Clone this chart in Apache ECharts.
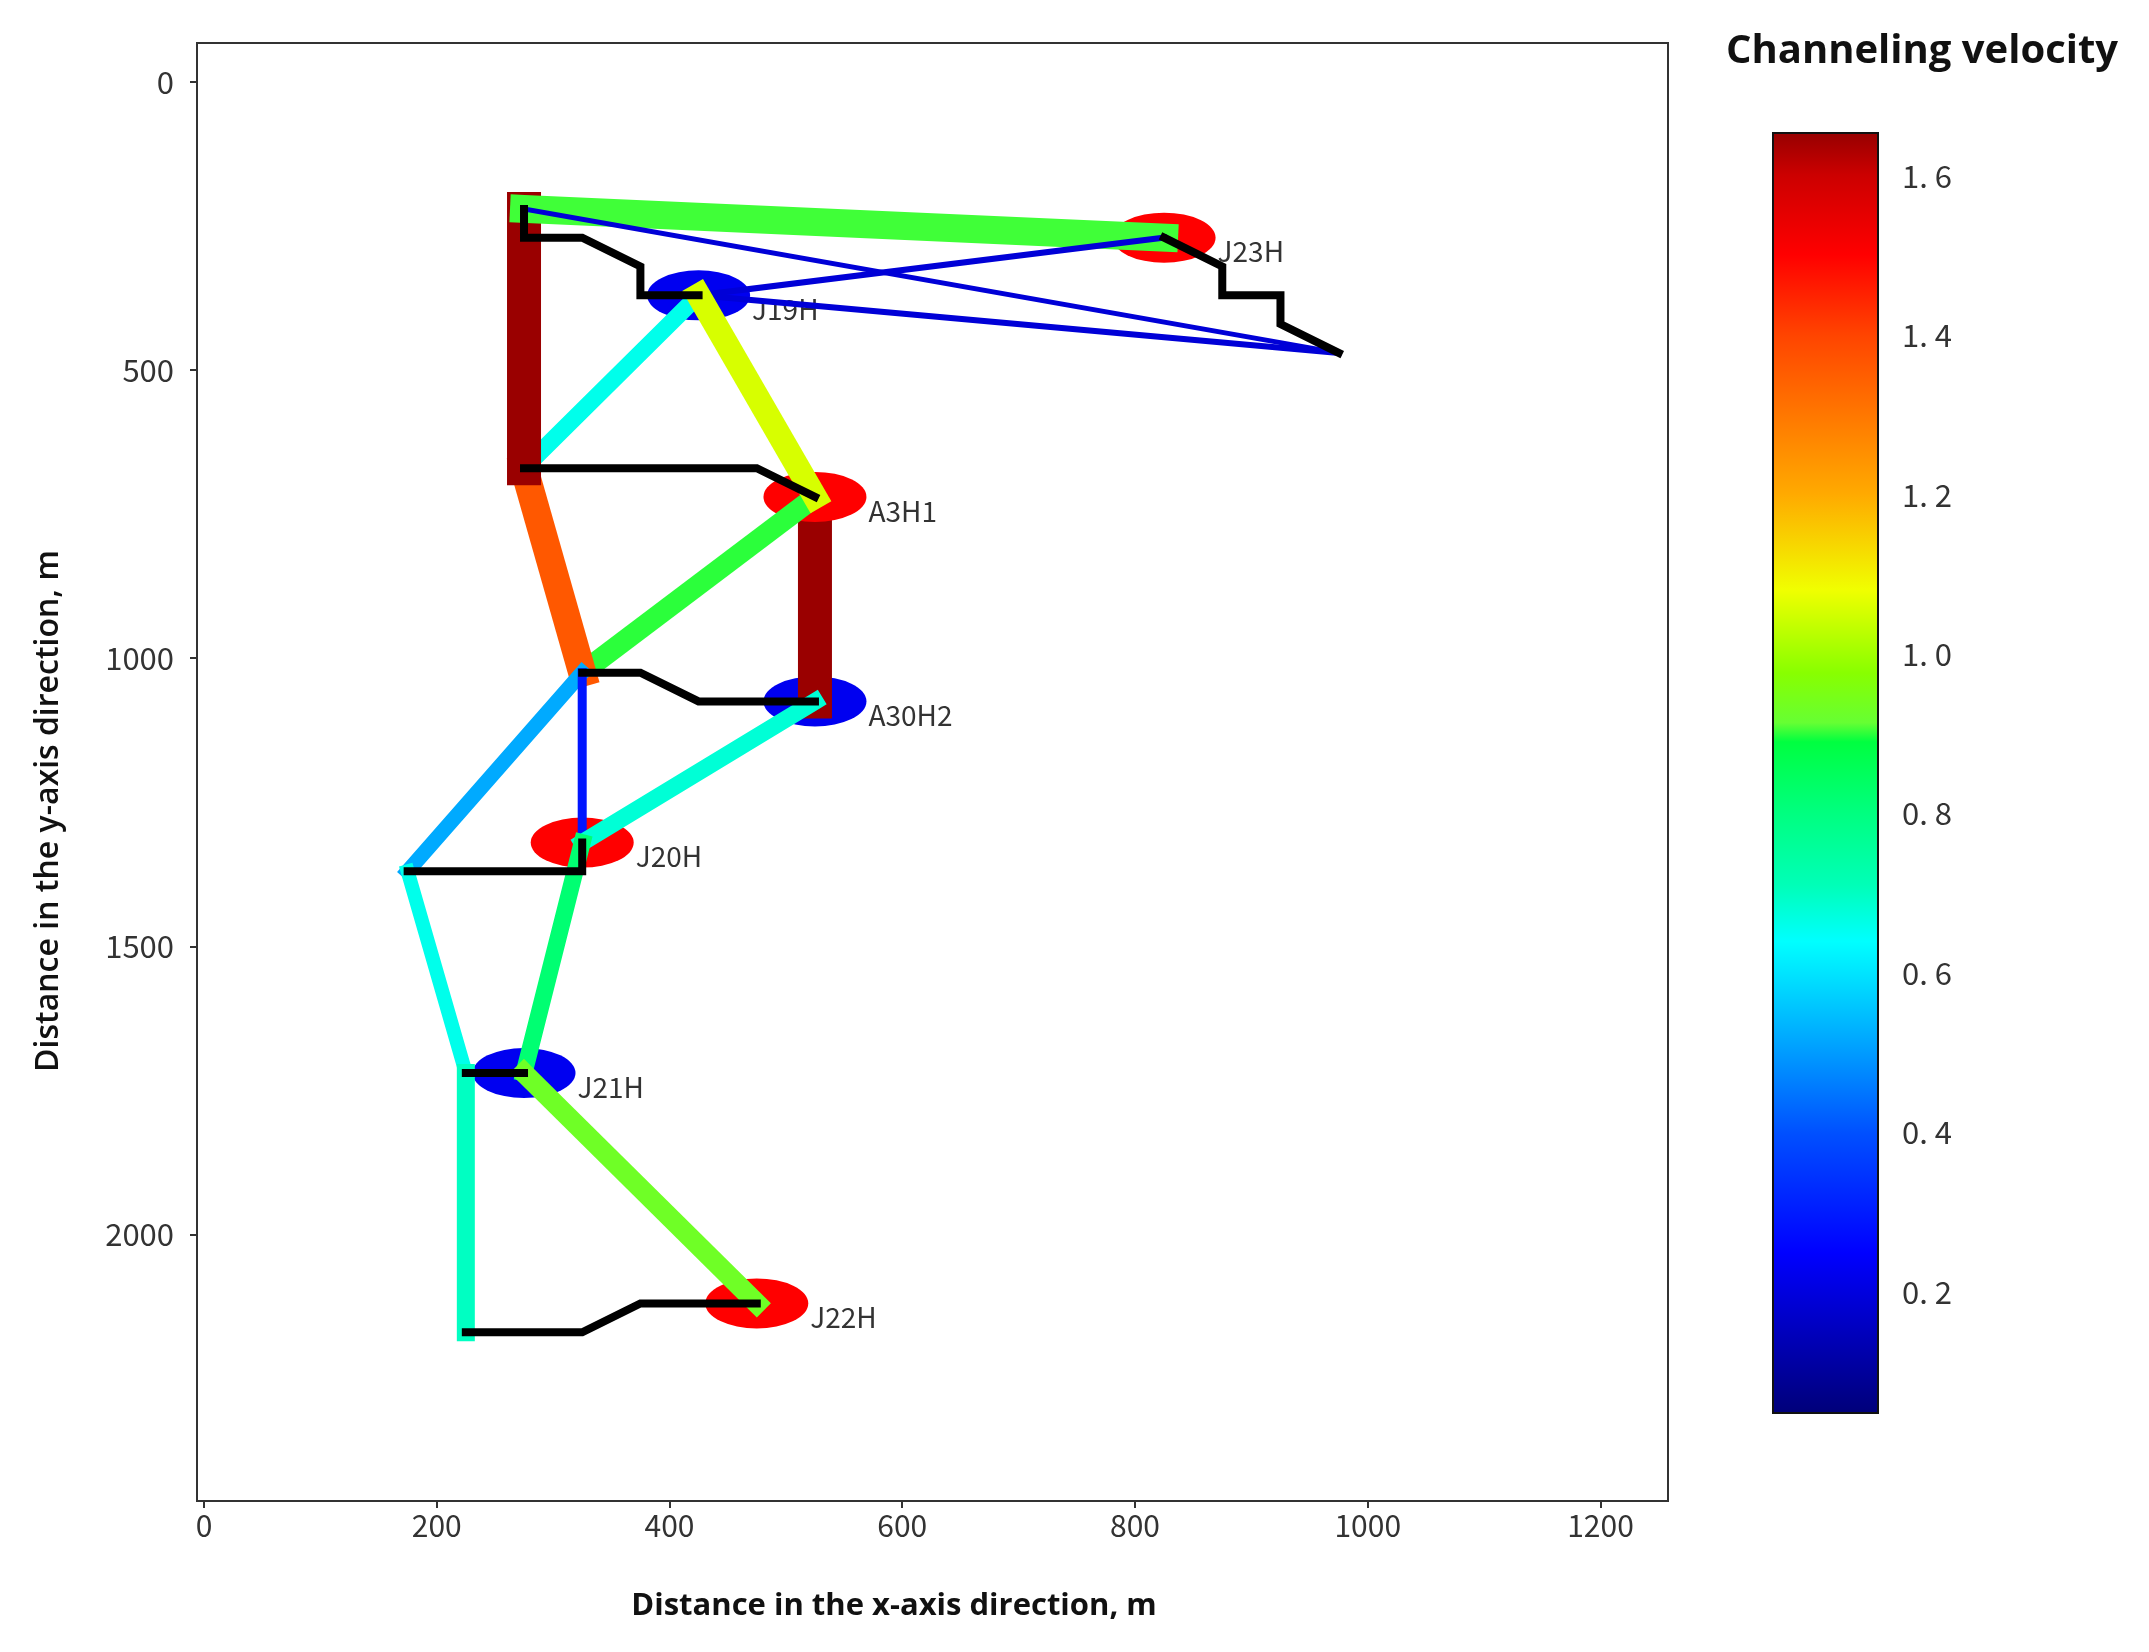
<!DOCTYPE html>
<html>
<head>
<meta charset="utf-8">
<style>html,body{margin:0;padding:0;background:#fff}#c{width:2149px;height:1652px}</style>
<script src="https://cdn.jsdelivr.net/npm/echarts@6/dist/echarts.min.js"></script>
</head>
<body>
<div id="c"></div>
<script>
// ---------- data ----------
const xTicks = [0, 200, 400, 600, 800, 1000, 1200];
const yTicks = [0, 500, 1000, 1500, 2000];
const colorbarTicks = [1.6, 1.4, 1.2, 1.0, 0.8, 0.6, 0.4, 0.2];
const colorbarTickLabels = ['1. 6', '1. 4', '1. 2', '1. 0', '0. 8', '0. 6', '0. 4', '0. 2'];

const wellNames = ['J23H', 'J19H', 'A3H1', 'A30H2', 'J20H', 'J21H', 'J22H'];
const wellX = [825, 425, 525, 525, 325, 275, 475];
const wellY = [270, 370, 720, 1075, 1320, 1720, 2120];
const wellKinds = ['red', 'blue', 'red', 'blue', 'red', 'blue', 'red'];

const traceJ23H = [[825, 270], [875, 320], [875, 370], [925, 370], [925, 420], [975, 470]];
const traceJ19H = [[425, 370], [375, 370], [375, 320], [325, 270], [275, 270], [275, 220]];
const traceA3H1 = [[525, 720], [475, 670], [275, 670]];
const traceA30H2 = [[525, 1075], [425, 1075], [375, 1025], [325, 1025]];
const traceJ20H = [[325, 1320], [325, 1370], [175, 1370]];
const traceJ21H = [[275, 1720], [225, 1720]];
const traceJ22H = [[475, 2120], [375, 2120], [325, 2170], [225, 2170]];

// channels, in drawing order
const channelFrom = [[525, 720], [525, 720], [275, 670], [425, 370], [275, 220], [275, 220], [275, 220], [425, 370], [425, 370], [425, 370], [325, 1025], [325, 1025], [525, 1075], [325, 1320], [175, 1370], [225, 1720], [275, 1720]];
const channelTo = [[525, 1075], [325, 1025], [325, 1025], [275, 670], [275, 670], [825, 270], [975, 470], [825, 270], [975, 470], [525, 720], [175, 1370], [325, 1320], [325, 1320], [275, 1720], [225, 1720], [225, 2170], [475, 2120]];
const channelVelocity = [1.65, 0.90, 1.36, 0.66, 1.65, 0.905, 0.19, 0.19, 0.19, 1.055, 0.52, 0.29, 0.68, 0.82, 0.66, 0.70, 0.93];
const channelWidth = [34, 21, 28, 17, 34, 28, 5, 6, 6, 24, 15, 9, 17, 17, 14, 18, 20];

// colour bar stops
const cbValues = [0.05, 0.25, 0.40, 0.52, 0.60, 0.64, 0.71, 0.80, 0.89, 0.914, 0.976, 1.0, 1.08, 1.2, 1.3, 1.4, 1.5, 1.6, 1.65];
const cbColors = ['#00007a', '#0000ff', '#0050ff', '#00aaff', '#00e4ff', '#00ffff', '#00ffb8', '#00ff80', '#00ff40', '#66ff33', '#88ff00', '#a0ff00', '#f0ff00', '#ffaa00', '#ff7700', '#ff4400', '#ff0000', '#cc0000', '#9a0000'];
const cbMin = 0.048, cbMax = 1.654;

// ---------- helpers ----------
function hexRgb(h) { return [1, 3, 5].map(i => parseInt(h.slice(i, i + 2), 16)); }
function velocityColor(v) {
  let i = 0;
  while (i < cbValues.length - 2 && v > cbValues[i + 1]) i++;
  const t = Math.max(0, Math.min(1, (v - cbValues[i]) / (cbValues[i + 1] - cbValues[i])));
  const a = hexRgb(cbColors[i]), b = hexRgb(cbColors[i + 1]);
  return 'rgb(' + a.map((c, k) => Math.round(c + (b[k] - c) * t)).join(',') + ')';
}

const tickFont = 'Noto Sans CJK SC';
const tickColor = '#333';

const series = [];
function wellSeries(kind, color, z) {
  return {
    type: 'scatter', xAxisIndex: 0, yAxisIndex: 0, z: z, silent: true,
    symbol: 'circle', symbolSize: [103, 50],
    itemStyle: { color: color, opacity: 1 },
    data: wellNames.map((n, i) => ({ name: n, value: [wellX[i], wellY[i]], kind: wellKinds[i] }))
      .filter(d => d.kind === kind).map(d => ({ name: d.name, value: d.value })),
    label: {
      show: true, position: 'right', distance: 2, offset: [0, 14],
      formatter: p => p.name, fontFamily: tickFont, fontSize: 28, color: '#333'
    }
  };
}
series.push(wellSeries('blue', '#0000f0', 0));
series.push(wellSeries('red', '#ff0000', 1.5));
channelFrom.forEach((from, i) => {
  series.push({
    type: 'line', xAxisIndex: 0, yAxisIndex: 0, z: i === 0 ? 1 : 2, silent: true,
    symbol: 'none', data: [from, channelTo[i]],
    lineStyle: { color: velocityColor(channelVelocity[i]), width: channelWidth[i], cap: 'square' }
  });
});
[traceJ23H, traceJ19H, traceA3H1, traceA30H2, traceJ20H, traceJ21H, traceJ22H].forEach(tr => {
  series.push({
    type: 'line', xAxisIndex: 0, yAxisIndex: 0, z: 3, silent: true,
    symbol: 'none', data: tr,
    lineStyle: { color: '#000', width: 8, cap: 'square', join: 'miter' }
  });
});
// colour bar drawn through its own axis
series.push({
  type: 'custom', xAxisIndex: 1, yAxisIndex: 1, silent: true, clip: false,
  data: [[0, cbMax, 1, cbMin]],
  encode: { x: [0, 2], y: [1, 3] },
  renderItem: (params, api) => {
    const p0 = api.coord([api.value(0), api.value(1)]);
    const p1 = api.coord([api.value(2), api.value(3)]);
    return {
      type: 'rect',
      shape: { x: p0[0], y: p0[1], width: p1[0] - p0[0], height: p1[1] - p0[1] },
      style: {
        fill: new echarts.graphic.LinearGradient(0, 0, 0, 1,
          cbValues.map((v, i) => ({ offset: (cbMax - v) / (cbMax - cbMin), color: cbColors[i] })).reverse()),
        stroke: '#111', lineWidth: 2
      }
    };
  }
});

const chart = echarts.init(document.getElementById('c'));
chart.setOption({
  animation: false,
  backgroundColor: '#fff',
  grid: [
    { left: 197, top: 43, width: 1471, height: 1458, show: true, borderColor: '#333', borderWidth: 2, backgroundColor: '#fff', containLabel: false },
    { left: 1773, top: 133, width: 105, height: 1280, show: false, containLabel: false }
  ],
  xAxis: [
    {
      type: 'value', gridIndex: 0, min: -6, max: 1258, position: 'bottom',
      axisLine: { onZero: false, lineStyle: { color: '#333', width: 2 } },
      splitLine: { show: false },
      axisTick: { length: 7, customValues: xTicks, lineStyle: { color: '#333', width: 2 } },
      axisLabel: { customValues: xTicks, margin: 10, fontFamily: tickFont, fontSize: 30, color: tickColor, formatter: v => String(v) }
    },
    { type: 'value', gridIndex: 1, min: 0, max: 1, show: false }
  ],
  yAxis: [
    {
      type: 'value', gridIndex: 0, inverse: true, min: -68, max: 2463, position: 'left',
      axisLine: { onZero: false, lineStyle: { color: '#333', width: 2 } },
      splitLine: { show: false },
      axisTick: { length: 7, customValues: yTicks, lineStyle: { color: '#333', width: 2 } },
      axisLabel: { customValues: yTicks, margin: 23, fontFamily: tickFont, fontSize: 31, color: tickColor, formatter: v => String(v) }
    },
    {
      type: 'value', gridIndex: 1, min: cbMin, max: cbMax, position: 'right',
      axisLine: { show: false },
      splitLine: { show: false },
      axisTick: { length: 14, customValues: colorbarTicks, lineStyle: { color: '#222', width: 2 } },
      axisLabel: {
        customValues: colorbarTicks, margin: 24, fontFamily: tickFont, fontSize: 31, color: tickColor,
        formatter: v => colorbarTickLabels[colorbarTicks.findIndex(t => Math.abs(t - v) < 1e-6)]
      }
    }
  ],
  graphic: [
    { type: 'text', x: 894, y: 1606, style: { text: 'Distance in the x-axis direction, m', font: '700 31px "Open Sans"', fill: '#111', textAlign: 'center', textVerticalAlign: 'middle' } },
    { type: 'text', x: 49, y: 811, rotation: Math.PI / 2, style: { text: 'Distance in the y-axis direction, m', font: '600 32px "Open Sans"', fill: '#111', textAlign: 'center', textVerticalAlign: 'middle' } },
    { type: 'text', x: 1922, y: 52, style: { text: 'Channeling velocity', font: '700 40px "Open Sans"', fill: '#111', textAlign: 'center', textVerticalAlign: 'middle' } }
  ],
  series: series
});
</script>
</body>
</html>
